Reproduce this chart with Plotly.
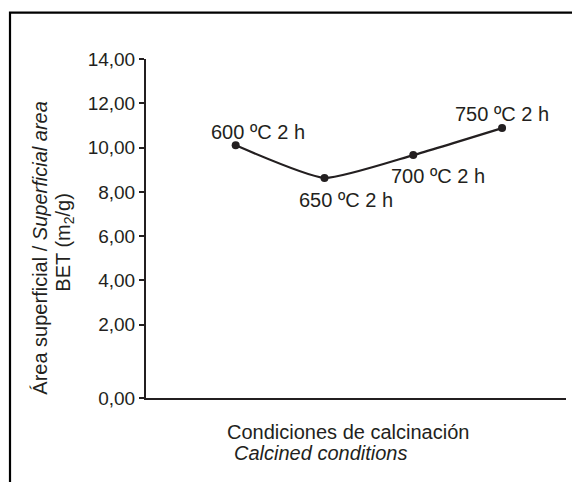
import plotly.graph_objects as go

# Data
conditions = ["600 ºC 2 h", "650 ºC 2 h", "700 ºC 2 h", "750 ºC 2 h"]
bet_area = [10.10, 8.63, 9.66, 10.88]
tick_values = [2, 4, 6, 8, 10, 12, 14]
tick_labels = ["2,00", "4,00", "6,00", "8,00", "10,00", "12,00", "14,00"]
zero_label = "0,00"
ZERO_TICK_POS = -1.31  # broken axis: the 0,00 tick sits below the linear scale

INK = "#231f20"
FONT = "Liberation Sans, Arial, sans-serif"
FS = 20
FS_TICK = 19

x_idx = list(range(len(conditions)))

fig = go.Figure()
fig.add_trace(go.Scatter(
    x=x_idx, y=bet_area, mode="lines+markers",
    line=dict(color=INK, width=2.2, shape="spline", smoothing=0.5),
    marker=dict(color=INK, size=8),
    hoverinfo="skip", showlegend=False,
))

label_shifts = [(22, 13), (22, -22), (25, -21), (0, 14)]
for xi, yv, txt, (dx, dy) in zip(x_idx, bet_area, conditions, label_shifts):
    fig.add_annotation(x=xi, y=yv, text=txt, showarrow=False,
                       xshift=dx, yshift=dy,
                       font=dict(family=FONT, size=FS, color=INK))

# axis titles
fig.add_annotation(xref="paper", yref="paper", x=0.482, y=-0.0994,
                   text="Condiciones de calcinación", showarrow=False,
                   xanchor="center", yanchor="middle",
                   font=dict(family=FONT, size=FS, color=INK))
fig.add_annotation(xref="paper", yref="paper", x=0.205, y=-0.161,
                   text="<i>Calcined conditions</i>", showarrow=False,
                   xanchor="left", yanchor="middle",
                   font=dict(family=FONT, size=FS, color=INK))
fig.add_annotation(xref="paper", yref="paper", x=-0.2524, y=0.4434,
                   text="Área superficial / <i>Superficial area</i>", showarrow=False,
                   textangle=-90, xanchor="center", yanchor="middle",
                   font=dict(family=FONT, size=FS, color=INK))
fig.add_annotation(xref="paper", yref="paper", x=-0.1929, y=0.461,
                   text="BET (m<sub>2</sub>/g)", showarrow=False,
                   textangle=-90, xanchor="center", yanchor="middle",
                   font=dict(family=FONT, size=FS, color=INK))

# outer frame (cropped at right and bottom)
fig.add_shape(type="rect", xref="paper", yref="paper",
              x0=-0.3238, x1=1.05, y0=-0.3, y1=1.1366,
              line=dict(color="black", width=2.2), layer="below")

fig.update_xaxes(range=[-1.01, 3.72], showline=True, linecolor=INK, linewidth=2,
                 showticklabels=False, ticks="", showgrid=False, zeroline=False)
fig.update_yaxes(range=[ZERO_TICK_POS, 14], showline=True, linecolor=INK, linewidth=2,
                 tickvals=[ZERO_TICK_POS] + tick_values,
                 ticktext=[zero_label] + tick_labels,
                 ticks="outside", ticklen=5, tickwidth=2, tickcolor=INK,
                 tickfont=dict(family=FONT, size=FS_TICK, color=INK),
                 showgrid=False, zeroline=False)

fig.update_layout(width=572, height=482,
                  margin=dict(l=146, r=6, t=59, b=84),
                  plot_bgcolor="white", paper_bgcolor="white")

fig.write_html("out.html", config={"displayModeBar": False},
               post_script="document.body.style.margin='0';document.body.style.overflow='hidden';")
